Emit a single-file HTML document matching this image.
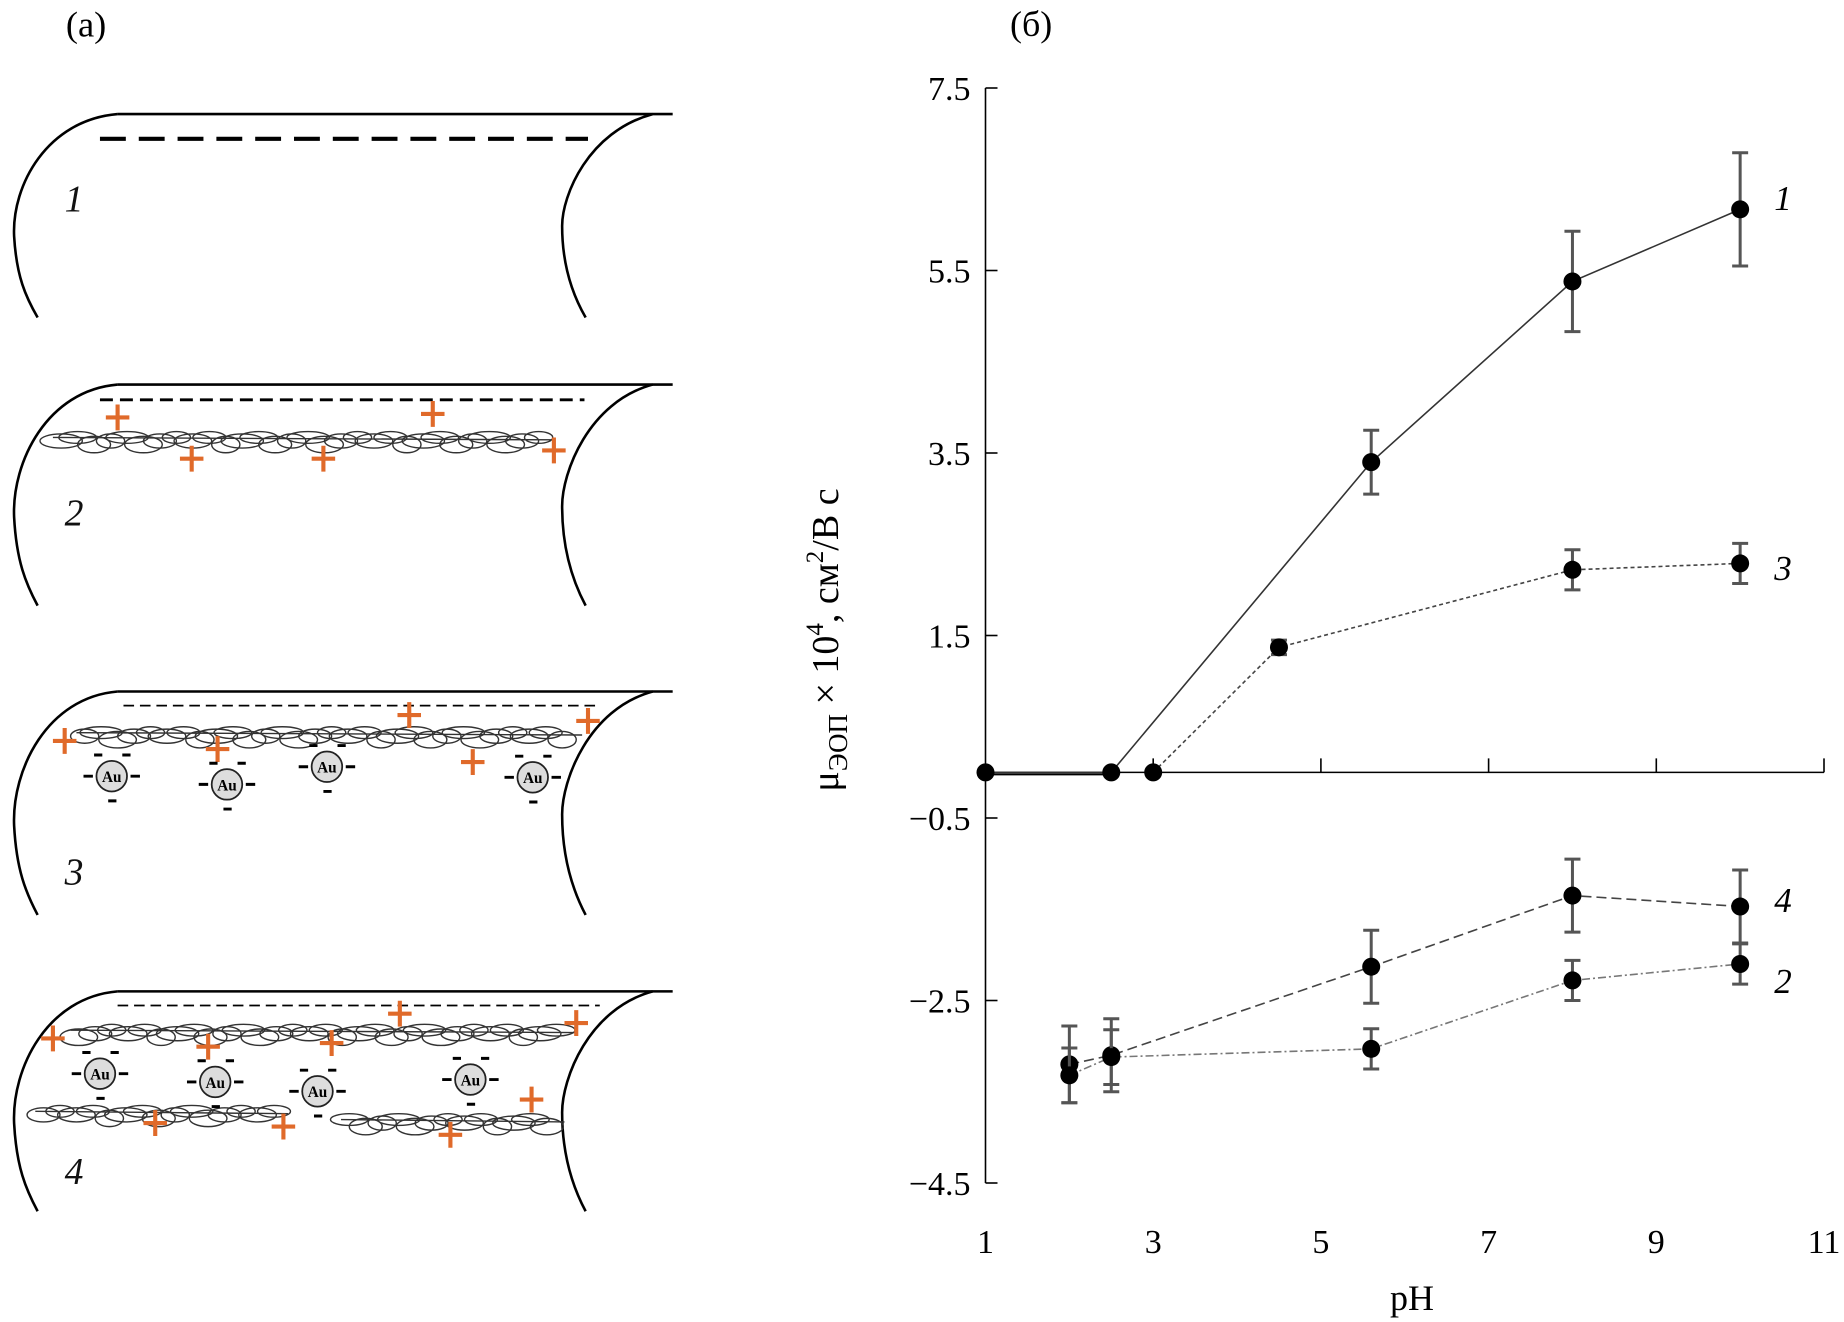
<!DOCTYPE html>
<html><head><meta charset="utf-8"><style>
html,body{margin:0;padding:0;background:#fff;}
svg{display:block;}
text{font-family:"Liberation Serif",serif;}
</style></head><body>
<svg id="fig" width="1844" height="1322" viewBox="0 0 1844 1322" xmlns="http://www.w3.org/2000/svg">
<g id="left" transform="scale(1.176)">
<text x="56" y="31" font-size="31">(a)</text>
</g>
<g id="chart">
<text x="1010" y="36" font-size="36">(б)</text>
</g>
</svg>
<script>
const NS="http://www.w3.org/2000/svg";
function mk(tag,attrs,parent){const e=document.createElementNS(NS,tag);for(const k in attrs)e.setAttribute(k,attrs[k]);parent.appendChild(e);return e;}
// ===== chart data =====
const xTicks=[1,3,5,7,9,11];
const yTicks=[7.5,5.5,3.5,1.5,-0.5,-2.5,-4.5];
const yTickLabels=["7.5","5.5","3.5","1.5","\u22120.5","\u22122.5","\u22124.5"];
const s1x=[1,2.5,5.6,8,10];
const s1y=[0,0,3.40,5.38,6.17];
const s1e=[0,0,0.35,0.55,0.62];
const s3x=[3,4.5,8,10];
const s3y=[0,1.37,2.22,2.29];
const s3e=[0,0.08,0.22,0.22];
const s4x=[2,2.5,5.6,8,10];
const s4y=[-3.20,-3.10,-2.13,-1.35,-1.47];
const s4e=[0.42,0.40,0.40,0.40,0.40];
const s2x=[2,2.5,5.6,8,10];
const s2y=[-3.32,-3.12,-3.03,-2.28,-2.10];
const s2e=[0.30,0.30,0.22,0.22,0.22];

const X=v=>985.5+(v-1)*83.85;
const Y=v=>88+(7.5-v)*91.25;
const ch=document.getElementById('chart');
let ax=mk('line',{x1:X(1),y1:Y(7.5),x2:X(1),y2:Y(-4.5),stroke:'#000','stroke-width':1.6},ch);


let xa=mk('line',{x1:X(1),y1:Y(0),x2:X(11),y2:Y(0),stroke:'#000','stroke-width':1.6},ch);


yTicks.forEach((t,i)=>{
  const l=mk('line',{x1:X(1),y1:Y(t),x2:X(1)+12,y2:Y(t),stroke:'#000','stroke-width':1.6},ch);
  
  
  const tx=mk('text',{x:X(1)-15,y:Y(t)+12,'font-size':34,'text-anchor':'end'},ch);
  tx.textContent=yTickLabels[i];
  
  
});
xTicks.forEach(t=>{
  if(t>1){const l=mk('line',{x1:X(t),y1:Y(0),x2:X(t),y2:Y(0)-14,stroke:'#000','stroke-width':1.6},ch);
  
  }
  const tx=mk('text',{x:X(t),y:1253,'font-size':34,'text-anchor':'middle'},ch);
  tx.textContent=String(t);
  
  
});
let xt=mk('text',{x:1412,y:1310,'font-size':36,'text-anchor':'middle'},ch);
xt.textContent='pH';


let yt=mk('text',{x:0,y:0,'font-size':38,'text-anchor':'middle',transform:'translate(838,640) rotate(-90)'},ch);
yt.innerHTML='μ<tspan font-size="27" dy="9">ЭОП</tspan><tspan dy="-9"> × 10</tspan><tspan font-size="25" dy="-15">4</tspan><tspan dy="15">, см</tspan><tspan font-size="25" dy="-15">2</tspan><tspan dy="15">/В с</tspan>';



function series(xs,ys,es,dash,color,w,name,label,ly){
  const g=mk('g',{},ch);
  
  
  const pts=xs.map((x,i)=>X(x)+','+Y(ys[i])).join(' ');
  const pl=mk('polyline',{points:pts,fill:'none',stroke:color,'stroke-width':w,'stroke-dasharray':dash},g);
  
  
  xs.forEach((x,i)=>{
    if(es[i]>0){
      const cx=X(x),t=Y(ys[i]+es[i]),b=Y(ys[i]-es[i]);
      const eb=mk('path',{d:`M${cx},${t}V${b}M${cx-8},${t}H${cx+8}M${cx-8},${b}H${cx+8}`,stroke:'#555','stroke-width':3,fill:'none'},g);
      
      
    }
    const c=mk('circle',{cx:X(x),cy:Y(ys[i]),r:9,fill:'#000'},g);
    
    
  });
  const lt=mk('text',{x:1783,y:ly,'font-size':35,'font-style':'italic','text-anchor':'middle'},g);
  lt.textContent=label;
  
  
}
mk('line',{x1:X(1),y1:Y(0)+2,x2:X(2.5),y2:Y(0)+2,stroke:'#000','stroke-width':2},ch);
series(s1x,s1y,s1e,'none','#333',1.6,'series-1','1',210);
series(s3x,s3y,s3e,'4,3','#444',1.6,'series-3','3',580);
series(s4x,s4y,s4e,'10,5','#444',1.6,'series-4','4',912);
series(s2x,s2y,s2e,'8,3,2,3','#777',1.6,'series-2','2',993);

// ===== schematic =====
const L=document.getElementById('left');
const OR='#e06a2a';
function tube(top,bot,name,num,ny){
  const g=mk('g',{fill:'none',stroke:'#000','stroke-width':2.2},L);
  
  
  const h=bot-top;
  mk('path',{d:`M100,${top} H572`},g);
  mk('path',{d:`M100,${top} C40,${top+5} 10,${top+h*0.35} 12,${top+h*0.6} C14,${top+h*0.8} 22,${top+h*0.9} 32,${bot}`},g);
  mk('path',{d:`M555,${top} C500,${top+15} 478,${top+h*0.4} 478,${top+h*0.55} C478,${top+h*0.75} 488,${top+h*0.9} 498,${bot}`},g);
  const t=mk('text',{x:55,y:ny,'font-size':32,'font-style':'italic',fill:'#111',stroke:'none'},L);
  t.textContent=num;
  
  
}
function dash(y,x1,x2,w,d){mk('line',{x1:x1,y1:y,x2:x2,y2:y,stroke:'#000','stroke-width':w,'stroke-dasharray':d},L);}
function plus(x,y){const p=mk('path',{d:`M${x-10},${y}H${x+10}M${x},${y-11}V${y+11}`,stroke:OR,'stroke-width':3.5},L);
  
  }
function scribble(x1,x2,y){
  const g=mk('g',{fill:'none',stroke:'#333','stroke-width':1.2},L);
  
  
  for(let x=x1;x<x2-10;x+=14){
    const k=(x*7)%11;
    mk('ellipse',{cx:x+7,cy:y+(k%3)*3,rx:12+(k%4)*2,ry:5+(k%3)},g);
  }
  mk('path',{d:`M${x1},${y} L${x2},${y+2}`},g);
}
function au(x,y){
  const g=mk('g',{},L);
  
  
  mk('circle',{cx:x,cy:y,r:13,fill:'#ddd',stroke:'#222','stroke-width':1.5},g);
  const t=mk('text',{x:x,y:y+5,'font-size':13,'font-weight':'bold','text-anchor':'middle','font-family':'Liberation Sans, sans-serif'},g);
  t.textContent='Au';
  mk('path',{d:`M${x-24},${y}h8M${x+16},${y}h8M${x-3},${y+21}h7M${x-15},${y-18}h7M${x+9},${y-18}h7`,stroke:'#000','stroke-width':2.5},g);
}
tube(97,270,'tube-1','1',180);
dash(118,85,500,3.5,'22,11');
tube(327,515,'tube-2','2',447);
dash(340,85,497,2.5,'11,6');
scribble(45,470,372);
[[100,355],[368,352],[163,390],[275,390],[471,383]].forEach(p=>plus(p[0],p[1]));
tube(588,778,'tube-3','3',752);
dash(600,105,510,1.5,'9,5');
scribble(65,495,623);
[[55,630],[348,608],[185,637],[402,648],[500,613]].forEach(p=>plus(p[0],p[1]));
[[95,660],[193,667],[278,652],[453,661]].forEach(p=>au(p[0],p[1]));
tube(843,1030,'tube-4','4',1007);
dash(855,100,510,1.5,'9,5');
scribble(60,490,876);
scribble(30,245,945);
scribble(290,480,952);
[[45,883],[340,862],[177,890],[282,887],[490,870],[452,935],[132,955],[241,958],[383,965]].forEach(p=>plus(p[0],p[1]));
[[85,913],[183,920],[270,928],[400,918]].forEach(p=>au(p[0],p[1]));
</script>
</body></html>
